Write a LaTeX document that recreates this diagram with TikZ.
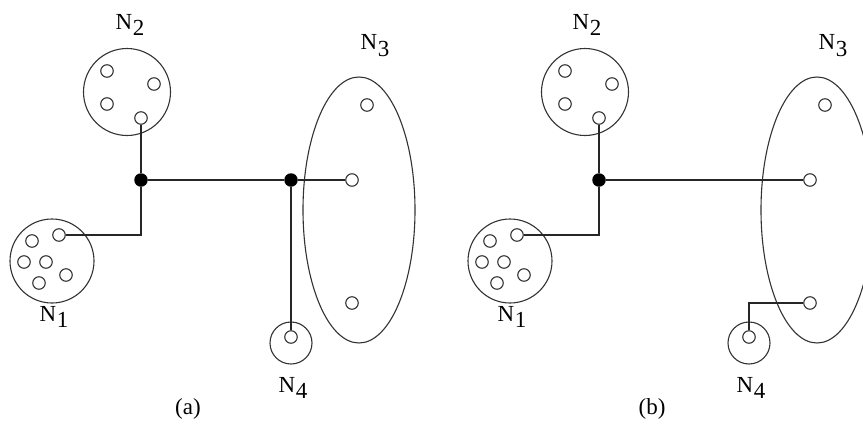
\documentclass[tikz,border=0pt]{standalone}
\usepackage{fontspec}
\setmainfont{Liberation Serif}
\usetikzlibrary{shapes.geometric}
\newcommand{\Nlab}[1]{N\kern0.5pt\raisebox{-0.3em}{#1}}
\tikzset{
  pin/.style={circle,draw=black!80,line width=1.1pt,minimum size=12.5pt,inner sep=0pt,fill=white},
  dot/.style={circle,fill=black,minimum size=13.5pt,inner sep=0pt},
  group/.style={circle,draw=black!80,line width=1.1pt,inner sep=0pt},
  oval/.style={ellipse,draw=black!80,line width=1.1pt,inner sep=0pt,minimum width=112pt,minimum height=266pt},
  lab/.style={font=\fontsize{23}{25}\selectfont,inner sep=0pt},
  wire/.style={draw=black!85,line width=1.4pt}
}
\begin{document}
\begin{tikzpicture}[x=1pt,y=-1pt]
\useasboundingbox (0,0) rectangle (863,426);
\clip (0,0) rectangle (863,426);
% ---------- panel (a) ----------
\node[group,minimum size=87pt] (aG2) at (127,92) {};
\node[group,minimum size=84pt] (aG1) at (52,261) {};
\node[group,minimum size=42pt] (aG4) at (291,343) {};
\node[oval] (aG3) at (359,210) {};
\node[pin] (a2a) at (107,71) {};
\node[pin] (a2b) at (154,84) {};
\node[pin] (a2c) at (107,104) {};
\node[pin] (a2d) at (141,118) {};
\node[pin] (a1a) at (59,235) {};
\node[pin] (a1b) at (32,241) {};
\node[pin] (a1c) at (24,262) {};
\node[pin] (a1d) at (46,262) {};
\node[pin] (a1e) at (66,275) {};
\node[pin] (a1f) at (39,283) {};
\node[pin] (a3a) at (367,105) {};
\node[pin] (a3b) at (352,180) {};
\node[pin] (a3c) at (352,303) {};
\node[pin] (a4a) at (291,337) {};
\node[dot] (aJ1) at (141,180) {};
\node[dot] (aJ2) at (291,180) {};
\node[lab] (aL2) at (130,25) {\Nlab{2}};
\node[lab] (aL1) at (54,317) {\Nlab{1}};
\node[lab] (aL3) at (375,46) {\Nlab{3}};
\node[lab] (aL4) at (293,388) {\Nlab{4}};
\node[lab] (aCap) at (188,409) {(a)};
\draw[wire] (a2d) -- (aJ1);
\draw[wire] (aJ1) |- (a1a);
\draw[wire] (aJ1) -- (aJ2);
\draw[wire] (aJ2) -- (a3b);
\draw[wire] (aJ2) -- (a4a);
% ---------- panel (b) ----------
\node[group,minimum size=87pt] (bG2) at (585,92) {};
\node[group,minimum size=84pt] (bG1) at (510,261) {};
\node[group,minimum size=42pt] (bG4) at (749,343) {};
\node[oval] (bG3) at (817,210) {};
\node[pin] (b2a) at (565,71) {};
\node[pin] (b2b) at (612,84) {};
\node[pin] (b2c) at (565,104) {};
\node[pin] (b2d) at (599,118) {};
\node[pin] (b1a) at (517,235) {};
\node[pin] (b1b) at (490,241) {};
\node[pin] (b1c) at (482,262) {};
\node[pin] (b1d) at (504,262) {};
\node[pin] (b1e) at (524,275) {};
\node[pin] (b1f) at (497,283) {};
\node[pin] (b3a) at (825,105) {};
\node[pin] (b3b) at (810,180) {};
\node[pin] (b3c) at (810,303) {};
\node[pin] (b4a) at (749,337) {};
\node[dot] (bJ1) at (599,180) {};
\node[lab] (bL2) at (587,25) {\Nlab{2}};
\node[lab] (bL1) at (512,317) {\Nlab{1}};
\node[lab] (bL3) at (833,46) {\Nlab{3}};
\node[lab] (bL4) at (751,388) {\Nlab{4}};
\node[lab] (bCap) at (652,409) {(b)};
\draw[wire] (b2d) -- (bJ1);
\draw[wire] (bJ1) |- (b1a);
\draw[wire] (bJ1) -- (b3b);
\draw[wire] (b4a) |- (b3c);
\end{tikzpicture}
\end{document}
